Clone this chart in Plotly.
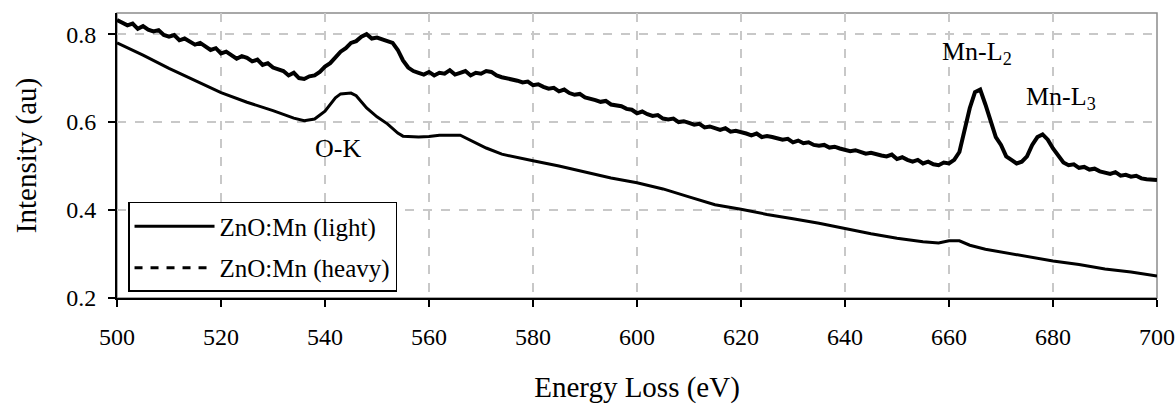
import plotly.graph_objects as go

# ---------------- data ----------------
energy_heavy = list(range(500, 701))
intensity_heavy = [
    0.832, 0.826, 0.820, 0.824, 0.812, 0.818, 0.810, 0.806, 0.809, 0.798,
    0.794, 0.798, 0.786, 0.790, 0.784, 0.776, 0.780, 0.772, 0.764, 0.768,
    0.756, 0.760, 0.752, 0.744, 0.750, 0.746, 0.738, 0.742, 0.730, 0.734,
    0.724, 0.720, 0.716, 0.706, 0.712, 0.700, 0.698, 0.704, 0.706, 0.714,
    0.726, 0.734, 0.748, 0.760, 0.768, 0.780, 0.784, 0.794, 0.800, 0.790,
    0.792, 0.788, 0.782, 0.780, 0.764, 0.740, 0.724, 0.716, 0.712, 0.708,
    0.714, 0.706, 0.712, 0.710, 0.718, 0.708, 0.712, 0.716, 0.706, 0.712,
    0.710, 0.716, 0.714, 0.706, 0.702, 0.700, 0.696, 0.694, 0.690, 0.692,
    0.684, 0.686, 0.680, 0.676, 0.678, 0.670, 0.674, 0.666, 0.662, 0.664,
    0.656, 0.654, 0.650, 0.646, 0.648, 0.640, 0.638, 0.636, 0.630, 0.628,
    0.620, 0.624, 0.618, 0.614, 0.616, 0.608, 0.606, 0.608, 0.600, 0.602,
    0.598, 0.594, 0.596, 0.588, 0.590, 0.586, 0.582, 0.586, 0.578, 0.580,
    0.578, 0.574, 0.570, 0.574, 0.566, 0.568, 0.566, 0.562, 0.560, 0.562,
    0.554, 0.558, 0.552, 0.554, 0.548, 0.546, 0.548, 0.542, 0.544, 0.540,
    0.538, 0.534, 0.536, 0.532, 0.528, 0.530, 0.526, 0.524, 0.522, 0.526,
    0.516, 0.520, 0.514, 0.510, 0.514, 0.506, 0.510, 0.504, 0.502, 0.508,
    0.506, 0.514, 0.532, 0.580, 0.632, 0.668, 0.674, 0.640, 0.600, 0.566,
    0.548, 0.522, 0.514, 0.506, 0.510, 0.522, 0.548, 0.566, 0.572, 0.560,
    0.540, 0.522, 0.508, 0.502, 0.504, 0.496, 0.498, 0.492, 0.494, 0.488,
    0.486, 0.482, 0.486, 0.478, 0.480, 0.476, 0.478, 0.472, 0.470, 0.468,
    0.468,
]

energy_light = [500, 505, 510, 515, 520, 525, 530, 534, 536, 538, 540, 542, 543, 545,
                546, 548, 550, 552, 554, 555, 558, 560, 562, 566, 568, 571, 574, 578,
                580, 585, 590, 595, 600, 605, 610, 615, 620, 625, 630, 635, 640, 645,
                650, 655, 658, 660, 662, 664, 667, 670, 675, 680, 685, 690, 695, 700]
intensity_light = [0.780, 0.752, 0.722, 0.694, 0.667, 0.645, 0.626, 0.609, 0.603, 0.607,
                   0.625, 0.655, 0.664, 0.666, 0.660, 0.632, 0.612, 0.596, 0.575, 0.568,
                   0.566, 0.567, 0.570, 0.570, 0.558, 0.541, 0.527, 0.518, 0.512, 0.500,
                   0.486, 0.473, 0.462, 0.448, 0.430, 0.412, 0.402, 0.390, 0.380, 0.370,
                   0.358, 0.346, 0.336, 0.328, 0.325, 0.330, 0.330, 0.320, 0.311, 0.305,
                   0.294, 0.284, 0.276, 0.266, 0.259, 0.250]

series_names = ["ZnO:Mn (light)", "ZnO:Mn (heavy)"]
x_ticks = [500, 520, 540, 560, 580, 600, 620, 640, 660, 680, 700]
y_ticks = [0.2, 0.4, 0.6, 0.8]
peak_labels = ["O-K", "Mn-L<sub>2</sub>", "Mn-L<sub>3</sub>"]
peak_x = [542.5, 665.3, 681.5]
peak_y = [0.541, 0.757, 0.655]

FONT = "Liberation Serif, Times New Roman, serif"

fig = go.Figure()

# light spectrum
fig.add_trace(go.Scatter(x=energy_light, y=intensity_light, mode="lines",
                         line=dict(color="black", width=3),
                         name=series_names[0], legendgroup="a"))
# heavy spectrum (noisy, drawn without legend entry)
fig.add_trace(go.Scatter(x=energy_heavy, y=intensity_heavy, mode="lines",
                         line=dict(color="black", width=4),
                         name=series_names[1], showlegend=False))
# legend-only entry for heavy
fig.add_trace(go.Scatter(x=[None], y=[None], mode="lines",
                         line=dict(color="black", width=3, dash="8px,8px"),
                         name=series_names[1], legendgroup="b"))

for t, xx, yy in zip(peak_labels, peak_x, peak_y):
    fig.add_annotation(x=xx, y=yy, text=t, showarrow=False,
                       font=dict(family=FONT, size=26, color="black"))

# plot area border (grey top/right)
fig.add_shape(type="rect", xref="paper", yref="paper", x0=0, y0=0, x1=1, y1=1,
              line=dict(color="#8c8c8c", width=1.5), layer="below")

fig.update_xaxes(range=[500, 700], tickvals=x_ticks, ticks="outside", ticklen=7,
                 tickcolor="black", tickwidth=1.5, ticklabelstandoff=9,
                 showline=True, linecolor="black", linewidth=2, automargin=False,
                 showgrid=True, gridcolor="#c8c8c8", griddash="dash", gridwidth=1.5,
                 zeroline=False,
                 tickfont=dict(family=FONT, size=24, color="black"),
                 title=dict(text="Energy Loss (eV)", font=dict(family=FONT, size=29, color="black"),
                            standoff=31))
fig.update_yaxes(range=[0.2, 0.848], tickvals=y_ticks, tickformat=".1f", ticks="outside",
                 ticklen=7, tickcolor="black", tickwidth=1.5, ticklabelstandoff=7,
                 showline=True, linecolor="black", linewidth=2, automargin=False,
                 showgrid=True, gridcolor="#c8c8c8", griddash="dash", gridwidth=1.5,
                 zeroline=False,
                 tickfont=dict(family=FONT, size=24, color="black"),
                 title=dict(text="Intensity (au)", font=dict(family=FONT, size=29, color="black"),
                            standoff=21))

fig.update_layout(
    width=1175, height=404, autosize=False,
    margin=dict(l=117, r=18, t=13, b=106),
    paper_bgcolor="white", plot_bgcolor="white",
    font=dict(family=FONT, color="black"),
    legend=dict(x=0.0106, y=0.337, xanchor="left", yanchor="top",
                bgcolor="white", bordercolor="black", borderwidth=1.5,
                font=dict(family=FONT, size=25, color="black"),
                itemwidth=80,
                traceorder="grouped", tracegroupgap=6),
)

# remove the default page margin so the figure fills the 1175x404 window exactly
fig.write_html("out.html",
               config={"responsive": False, "displayModeBar": False},
               post_script="document.body.style.margin='0';document.body.style.overflow='hidden';")
